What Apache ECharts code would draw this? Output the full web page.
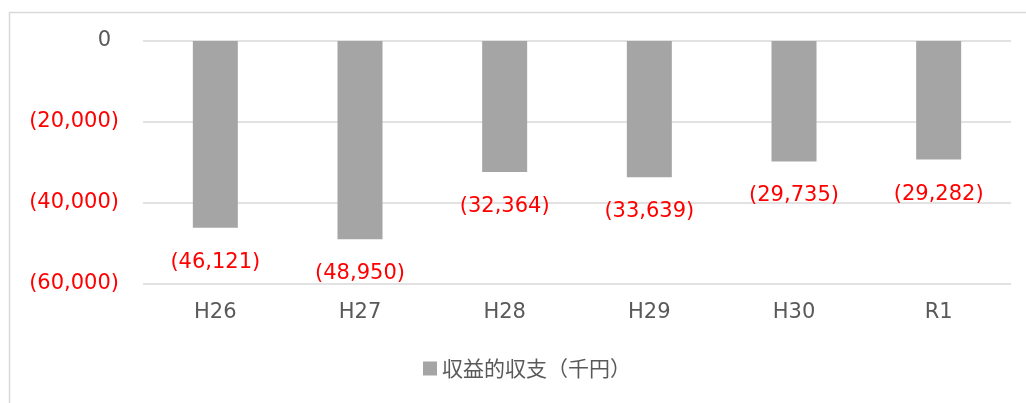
<!DOCTYPE html>
<html>
<head>
<meta charset="utf-8">
<script src="https://cdn.jsdelivr.net/npm/echarts@6/dist/echarts.min.js"></script>
<style>
html,body{margin:0;padding:0;background:#fff;}
#chart{width:1026px;height:403px;}
</style>
</head>
<body>
<div id="chart"></div>
<script>
const categories = ['H26', 'H27', 'H28', 'H29', 'H30', 'R1'];
const values = [-46121, -48950, -32364, -33639, -29735, -29282];
const seriesName = '収益的収支（千円）';
const yTicks = { min: -60000, max: 0, interval: 20000 };

function fmt(v) {
  const s = Math.abs(v).toLocaleString('en-US');
  return v < 0 ? '(' + s + ')' : s;
}

const chart = echarts.init(document.getElementById('chart'));
chart.setOption({
  animation: false,
  backgroundColor: '#ffffff',
  graphic: [{
    type: 'rect',
    shape: { x: 9.5, y: 12.5, width: 1100, height: 500 },
    style: { fill: 'none', stroke: '#d9d9d9', lineWidth: 1.5 },
    silent: true
  }],
  grid: { left: 143, right: 15, top: 41, bottom: 119, containLabel: false },
  legend: {
    bottom: 19,
    left: 418,
    icon: 'rect',
    itemWidth: 14,
    itemHeight: 14,
    textStyle: { fontFamily: 'Noto Sans CJK JP', fontSize: 21, color: '#595959' },
    data: [seriesName]
  },
  xAxis: {
    type: 'category',
    data: categories,
    axisLine: { show: false },
    axisTick: { show: false },
    axisLabel: { margin: 18, fontFamily: 'DejaVu Sans', fontSize: 21, color: '#595959' }
  },
  yAxis: {
    type: 'value',
    min: yTicks.min,
    max: yTicks.max,
    interval: yTicks.interval,
    axisLine: { show: false },
    axisTick: { show: false },
    splitLine: { lineStyle: { color: '#d9d9d9', width: 1.5 } },
    axisLabel: {
      margin: 24,
      fontFamily: 'DejaVu Sans',
      fontSize: 21,
      formatter: function (v) { return v < 0 ? fmt(v) : '{z|' + fmt(v) + '}'; },
      rich: { z: { fontFamily: 'DejaVu Sans', fontSize: 21, color: '#595959', padding: [0, 8, 0, 0] } },
      color: function (v) { return Number(v) < 0 ? '#ff0000' : '#595959'; }
    }
  },
  series: [{
    name: seriesName,
    type: 'bar',
    data: values,
    barWidth: 45,
    itemStyle: { color: '#a5a5a5' },
    label: {
      show: true,
      position: 'bottom',
      distance: 24,
      fontFamily: 'DejaVu Sans',
      fontSize: 21,
      color: '#ff0000',
      formatter: function (p) { return fmt(p.value); }
    }
  }]
});
</script>
</body>
</html>
